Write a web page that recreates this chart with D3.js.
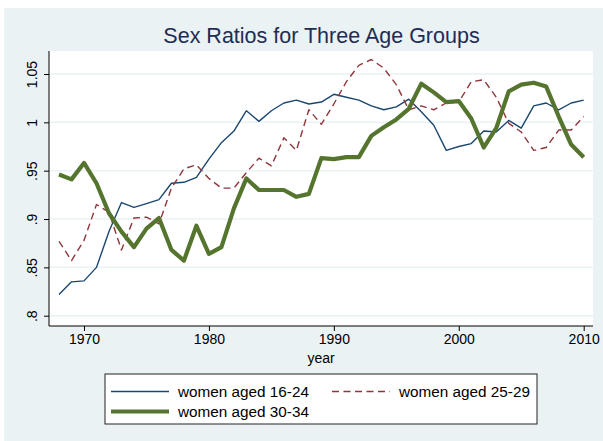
<!DOCTYPE html>
<html>
<head>
<meta charset="utf-8">
<script src="https://cdn.jsdelivr.net/npm/d3@7"></script>
<style>
  body { margin: 0; background: #fff; }
  svg { display: block; font-family: "Liberation Sans", Arial, sans-serif; }
</style>
</head>
<body>
<div id="chart"></div>
<script>
// === DATA ===
const years = d3.range(1968, 2011)
const age1624 = [0.822, 0.835, 0.836, 0.850, 0.887, 0.917, 0.912, 0.916, 0.920, 0.937,
  0.938, 0.943, 0.962, 0.979, 0.991, 1.012, 1.001, 1.012, 1.020, 1.023,
  1.019, 1.021, 1.029, 1.026, 1.023, 1.017, 1.013, 1.016, 1.024, 1.011,
  0.997, 0.971, 0.975, 0.978, 0.991, 0.990, 1.002, 0.994, 1.017, 1.020,
  1.013, 1.020, 1.023]
const age2529 = [0.877, 0.857, 0.878, 0.915, 0.907, 0.868, 0.901, 0.902, 0.895, 0.932,
  0.952, 0.956, 0.942, 0.932, 0.932, 0.948, 0.963, 0.955, 0.984, 0.971,
  1.013, 0.998, 1.019, 1.042, 1.059, 1.065, 1.056, 1.039, 1.013, 1.017,
  1.013, 1.020, 1.021, 1.042, 1.044, 1.026, 0.999, 0.990, 0.971, 0.974,
  0.992, 0.992, 1.006]
const age3034 = [0.946, 0.941, 0.958, 0.937, 0.906, 0.887, 0.871, 0.890, 0.901, 0.868,
  0.857, 0.893, 0.864, 0.871, 0.911, 0.942, 0.930, 0.930, 0.930, 0.923,
  0.926, 0.963, 0.962, 0.964, 0.964, 0.986, 0.995, 1.003, 1.014, 1.040,
  1.031, 1.021, 1.022, 1.004, 0.974, 0.994, 1.032, 1.039, 1.041, 1.037,
  1.006, 0.977, 0.964]
const xTicks = [1970, 1980, 1990, 2000, 2010]
const yTicks = [0.8, 0.85, 0.9, 0.95, 1, 1.05]
const yTickLabels = ['.8', '.85', '.9', '.95', '1', '1.05']

const series = [
  { name: 'women aged 16-24', values: age1624, color: '#1a476f', width: 1.4, dash: null },
  { name: 'women aged 25-29', values: age2529, color: '#90353b', width: 1.4, dash: '7,4.5' },
  { name: 'women aged 30-34', values: age3034, color: '#55752f', width: 4.2, dash: null }
]

// === LAYOUT ===
const W = 603, H = 441
const plot = { left: 49, right: 593, top: 51, bottom: 326 }

const svg = d3.select('#chart').append('svg')
  .attr('width', W)
  .attr('height', H)

// outer background
svg.append('rect')
  .attr('x', 4).attr('y', 8)
  .attr('width', W - 4).attr('height', H - 8)
  .attr('fill', '#eaf2f3')

// plot region
svg.append('rect')
  .attr('x', plot.left).attr('y', plot.top)
  .attr('width', plot.right - plot.left).attr('height', plot.bottom - plot.top)
  .attr('fill', '#fff')

const x = d3.scaleLinear().domain([1970, 2010]).range([84, 583.7])
const y = d3.scaleLinear().domain([0.8, 1.05]).range([315.7, 74])

// gridlines
svg.append('g')
  .selectAll('line')
  .data(yTicks)
  .join('line')
  .attr('x1', plot.left).attr('x2', plot.right)
  .attr('y1', d => y(d)).attr('y2', d => y(d))
  .attr('stroke', '#eaf2f3')
  .attr('stroke-width', 1.5)

// title
svg.append('text')
  .attr('x', 321.5).attr('y', 43)
  .attr('text-anchor', 'middle')
  .attr('font-size', 21.5)
  .attr('fill', '#1e2d53')
  .text('Sex Ratios for Three Age Groups')

// y axis
const yAxis = svg.append('g')
  .attr('transform', `translate(${plot.left},0)`)
  .call(d3.axisLeft(y).tickValues(yTicks).tickSize(5).tickPadding(0)
    .tickFormat((d, i) => yTickLabels[i]))
yAxis.select('.domain').attr('d', `M0,${plot.top}V${plot.bottom}`).attr('stroke', '#000')
yAxis.selectAll('.tick line').attr('stroke', '#000')
yAxis.selectAll('.tick text')
  .attr('font-size', 14)
  .attr('fill', '#000')
  .attr('font-family', '"Liberation Sans", Arial, sans-serif')
  .attr('text-anchor', 'middle')
  .attr('transform', 'translate(-12,0) rotate(-90)')
  .attr('x', 0)
  .attr('dy', 0)
  .attr('y', 0)

// x axis
const xAxis = svg.append('g')
  .attr('transform', `translate(0,${plot.bottom})`)
  .call(d3.axisBottom(x).tickValues(xTicks).tickSize(5).tickPadding(3)
    .tickFormat(d3.format('d')))
xAxis.select('.domain').attr('d', `M${plot.left},0H${plot.right}`).attr('stroke', '#000')
xAxis.selectAll('.tick line').attr('stroke', '#000')
xAxis.selectAll('.tick text')
  .attr('font-size', 14)
  .attr('fill', '#000')
  .attr('font-family', '"Liberation Sans", Arial, sans-serif')

svg.append('text')
  .attr('x', (plot.left + plot.right) / 2).attr('y', 363)
  .attr('text-anchor', 'middle')
  .attr('font-size', 14)
  .text('year')

// lines
const line = d3.line()
  .x((d, i) => x(years[i]))
  .y(d => y(d))

svg.append('g')
  .selectAll('path')
  .data(series)
  .join('path')
  .attr('d', d => line(d.values))
  .attr('fill', 'none')
  .attr('stroke', d => d.color)
  .attr('stroke-width', d => d.width)
  .attr('stroke-dasharray', d => d.dash)
  .attr('stroke-linejoin', 'round')

// legend
const legend = svg.append('g')
legend.append('rect')
  .attr('x', 105).attr('y', 374)
  .attr('width', 432).attr('height', 50)
  .attr('fill', '#fff')
  .attr('stroke', '#222')
  .attr('stroke-width', 1)

const legendPos = [
  { x: 111, y: 391.5 },
  { x: 332, y: 391.5 },
  { x: 111, y: 411.5 }
]

const items = legend.selectAll('g.item')
  .data(series)
  .join('g')
  .attr('class', 'item')
  .attr('transform', (d, i) => `translate(${legendPos[i].x},${legendPos[i].y})`)

items.append('line')
  .attr('x1', 0).attr('x2', 58)
  .attr('stroke', d => d.color)
  .attr('stroke-width', d => d.width)
  .attr('stroke-dasharray', d => d.dash)

items.append('text')
  .attr('x', 67)
  .attr('dy', '0.35em')
  .attr('font-size', 15.3)
  .text(d => d.name)
</script>
</body>
</html>
